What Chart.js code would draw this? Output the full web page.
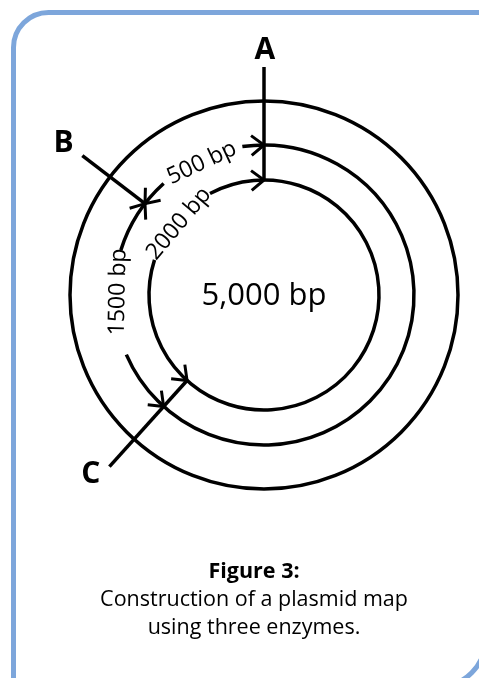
<!DOCTYPE html>
<html><head><meta charset="utf-8">
<script src="https://cdn.jsdelivr.net/npm/chart.js@4"></script>
<style>
html,body{margin:0;padding:0;background:#fff;overflow:hidden}
#c{display:block}
</style></head><body>
<canvas id="c" width="479" height="678"></canvas>
<script>
// ---- data ----
const plasmidLabel = '5,000 bp';
const ringRadii = [194, 150, 115];               // outer, middle, inner rings
const siteLabels = ['A', 'B', 'C'];
const siteAngles = [90, 142.5, 228];             // degrees, counter-clockwise from 3 o'clock
const siteInnerRadii = [114, 150, 114];
const siteOuterRadii = [228, 229, 231];
const siteLabelAngles = [89.8, 142.7, 225.9];
const siteLabelRadii = [246, 252, 249];
const fragmentLabels = ['500 bp', '1500 bp', '2000 bp'];
const fragmentRing = [1, 1, 2];
const fragmentFrom = ['B', 'C', 'C'];
const fragmentTo = ['A', 'B', 'A'];
const fragmentLabelAngles = [115.2, 178.8, 140];
const fragmentGapStart = [98.3, 162.6, 118];
const fragmentGapEnd = [132, 203.4, 162.2];
const captionLines = ['Figure 3:', 'Construction of a plasmid map', 'using three enzymes.'];

const deg = Math.PI / 180;
const polar = (r, a) => ({ x: r * Math.cos(a * deg), y: r * Math.sin(a * deg) });

const siteDatasets = siteLabels.map((s, i) => ({
  label: 'Site ' + s,
  type: 'line',
  data: [polar(siteInnerRadii[i], siteAngles[i]), polar(siteOuterRadii[i], siteAngles[i])],
  borderColor: '#000', borderWidth: 3.5, pointRadius: 0, borderCapStyle: 'butt', fill: false
}));

function geo(chart) {
  const xs = chart.scales.x, ys = chart.scales.y;
  const cx = xs.getPixelForValue(0), cy = ys.getPixelForValue(0);
  const k = xs.getPixelForValue(1) - cx;
  const pt = (r, a) => ({ x: cx + r * k * Math.cos(a * deg), y: cy - r * k * Math.sin(a * deg) });
  return { cx, cy, k, pt };
}

const framePlugin = {
  id: 'frame',
  beforeDraw(chart) {
    const ctx = chart.ctx;
    ctx.save();
    ctx.fillStyle = '#fff';
    ctx.fillRect(0, 0, chart.width, chart.height);
    ctx.strokeStyle = '#7da6db'; ctx.lineWidth = 5;
    ctx.beginPath();
    ctx.roundRect(13.5, 12.5, 472, 674, [35, 0, 47, 0]);
    ctx.stroke();
    ctx.restore();
  }
};

const plasmidPlugin = {
  id: 'plasmid',
  beforeDatasetsDraw(chart) {
    const { ctx } = chart; const g = geo(chart);
    ctx.save();
    ctx.strokeStyle = '#000'; ctx.lineWidth = 3.5; ctx.lineCap = 'butt';
    ringRadii.forEach((r, ri) => {
      const gaps = [];
      fragmentLabels.forEach((f, fi) => {
        if (fragmentRing[fi] === ri) gaps.push([fragmentGapStart[fi], fragmentGapEnd[fi]]);
      });
      gaps.sort((a, b) => a[0] - b[0]);
      ctx.beginPath();
      if (!gaps.length) { ctx.arc(g.cx, g.cy, r * g.k, 0, 2 * Math.PI); }
      else {
        for (let i = 0; i < gaps.length; i++) {
          const a1 = gaps[i][1];
          const a2 = i + 1 < gaps.length ? gaps[i + 1][0] : gaps[0][0] + 360;
          const p = g.pt(r, a1);
          ctx.moveTo(p.x, p.y);
          ctx.arc(g.cx, g.cy, r * g.k, -a1 * deg, -a2 * deg, true);
        }
      }
      ctx.stroke();
    });
    ctx.restore();
  },
  afterDatasetsDraw(chart) {
    const { ctx } = chart; const g = geo(chart);
    ctx.save();
    // arrowheads at both ends of each fragment
    ctx.strokeStyle = '#000'; ctx.lineWidth = 3; ctx.lineCap = 'butt'; ctx.lineJoin = 'miter';
    fragmentLabels.forEach((f, fi) => {
      const r = ringRadii[fragmentRing[fi]];
      const aFrom = siteAngles[siteLabels.indexOf(fragmentFrom[fi])];
      const aTo = siteAngles[siteLabels.indexOf(fragmentTo[fi])];
      [[aFrom, aTo], [aTo, aFrom]].forEach(([tipA, otherA]) => {
        const s = Math.sign(otherA - tipA);
        const tip = g.pt(r, tipA);
        const back = g.pt(r, tipA + s * 4);
        let dx = back.x - tip.x, dy = back.y - tip.y;
        const L = Math.hypot(dx, dy); dx /= L; dy /= L;
        const len = 16, h = 38 * deg;
        ctx.beginPath();
        [h, -h].forEach((t, j) => {
          const ex = tip.x + len * (dx * Math.cos(t) - dy * Math.sin(t));
          const ey = tip.y + len * (dx * Math.sin(t) + dy * Math.cos(t));
          if (j === 0) { ctx.moveTo(ex, ey); ctx.lineTo(tip.x, tip.y); } else ctx.lineTo(ex, ey);
        });
        ctx.stroke();
      });
    });
    // fragment labels
    ctx.fillStyle = '#000'; ctx.textAlign = 'center'; ctx.textBaseline = 'middle';
    ctx.font = '23px "Open Sans"';
    fragmentLabels.forEach((f, fi) => {
      const r = ringRadii[fragmentRing[fi]] - 3;
      const a = fragmentLabelAngles[fi];
      const p = g.pt(r, a);
      ctx.save(); ctx.translate(p.x, p.y); ctx.rotate((90 - a) * deg);
      ctx.fillText(f, 0, 1); ctx.restore();
    });
    // site labels
    ctx.font = 'bold 30px "Open Sans"';
    siteLabels.forEach((s, i) => {
      const p = g.pt(siteLabelRadii[i], siteLabelAngles[i]);
      ctx.fillText(s, p.x, p.y + 1);
    });
    // centre label
    ctx.font = '31px "Open Sans"'; ctx.textBaseline = 'alphabetic';
    ctx.fillText(plasmidLabel, g.cx, g.cy + 10);
    // caption
    const capX = g.cx - 10;
    ctx.font = 'bold 21.5px "Open Sans"';
    ctx.fillText(captionLines[0], capX, 578);
    ctx.font = '21.5px "Open Sans"';
    ctx.fillText(captionLines[1], capX, 606);
    ctx.fillText(captionLines[2], capX, 634);
    ctx.restore();
  }
};

new Chart(document.getElementById('c'), {
  type: 'scatter',
  data: { datasets: siteDatasets },
  options: {
    responsive: false, animation: false, devicePixelRatio: 1,
    layout: { padding: 0 },
    plugins: { legend: { display: false }, tooltip: { enabled: false }, title: { display: false } },
    scales: {
      x: { type: 'linear', min: -264, max: 215, display: false },
      y: { type: 'linear', min: -383, max: 295, display: false }
    }
  },
  plugins: [framePlugin, plasmidPlugin]
});
</script>
</body></html>
